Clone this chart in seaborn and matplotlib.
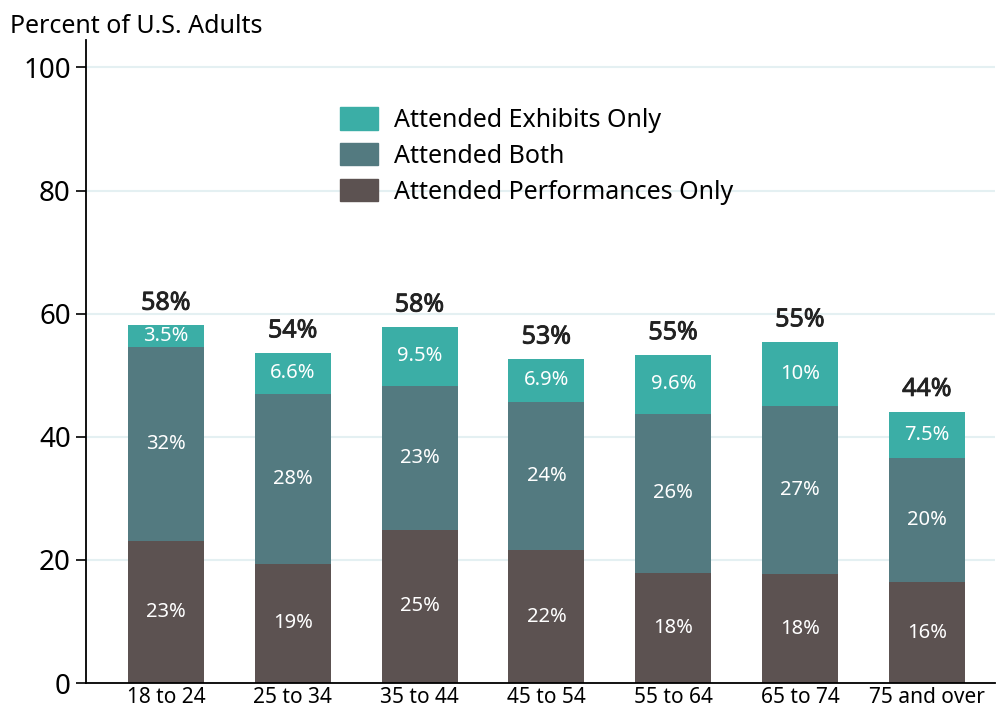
import numpy as np
import pandas as pd
import matplotlib

matplotlib.use("Agg")
import matplotlib.pyplot as plt
import matplotlib.patheffects as pe
import seaborn as sns
from matplotlib.patches import Patch

# data
ages = ["18 to 24", "25 to 34", "35 to 44", "45 to 54", "55 to 64", "65 to 74", "75 and over"]
performances_only = [23.1, 19.4, 24.9, 21.6, 17.9, 17.7, 16.4]
both = [31.5, 27.6, 23.4, 24.1, 25.8, 27.3, 20.2]
exhibits_only = [3.5, 6.6, 9.5, 6.9, 9.6, 10.4, 7.5]
total_labels = ["58%", "54%", "58%", "53%", "55%", "55%", "44%"]

c_exh = "#3baea6"
c_both = "#537a80"
c_perf = "#5c5251"

sns.set_theme(style="white")
plt.rcParams["font.family"] = ["Noto Sans", "DejaVu Sans"]

df = pd.DataFrame({
    "age": ages,
    "perf": performances_only,
    "both": both,
    "exh": exhibits_only,
})
df["lvl2"] = df["perf"] + df["both"]
df["lvl3"] = df["lvl2"] + df["exh"]

fig = plt.figure(figsize=(9.97, 7.10), dpi=100)
ax = fig.add_axes([0.0863, 0.038, 0.912, 0.906])

# stacked bars: draw cumulative heights back to front
for col, c in [("lvl3", c_exh), ("lvl2", c_both), ("perf", c_perf)]:
    sns.barplot(data=df, x="age", y=col, color=c, width=0.6, saturation=1,
                linewidth=0, ax=ax, zorder=2)


def fmt(v):
    return f"{v:.1f}%" if v < 9.95 else f"{v:.0f}%"


# no semibold Noto face installed, fake it with a thin stroke
semibold = [pe.withStroke(linewidth=0.6, foreground="#222222")]

for i, row in df.iterrows():
    for y, v in [(row["perf"] / 2, row["perf"]),
                 (row["perf"] + row["both"] / 2, row["both"]),
                 (row["lvl2"] + row["exh"] / 2, row["exh"])]:
        ax.text(i, y, fmt(v), ha="center", va="center", color="white",
                fontsize=14.5, zorder=3)
    ax.text(i, row["lvl3"] + 3.6, total_labels[i], ha="center", va="center",
            color="#222222", fontsize=18, zorder=3, path_effects=semibold)

ax.set_ylim(0, 104.5)
ax.set_xlim(-0.63, 6.54)
ax.set_yticks([0, 20, 40, 60, 80, 100])
ax.yaxis.grid(True, color="#e4f0f2", linewidth=1.5, zorder=0)
ax.set_axisbelow(True)
ax.set_xlabel("")
ax.set_ylabel("")
ax.tick_params(axis="y", labelsize=20, labelcolor="black", length=7, width=1.2,
               color="black", left=True, pad=4)
ax.tick_params(axis="x", labelsize=15, labelcolor="black", length=0, pad=3)
for s in ["top", "right"]:
    ax.spines[s].set_visible(False)
for s in ["left", "bottom"]:
    ax.spines[s].set_color("black")
    ax.spines[s].set_linewidth(1.3)

fig.text(0.01, 0.962, "Percent of U.S. Adults", fontsize=18, ha="left", va="center", color="black")

handles = [Patch(color=c_exh), Patch(color=c_both), Patch(color=c_perf)]
ax.legend(handles, ["Attended Exhibits Only", "Attended Both", "Attended Performances Only"],
          loc="upper left", bbox_to_anchor=(0.255, 0.93), frameon=False, fontsize=18,
          labelcolor="black", handlelength=1.5, handleheight=1.0, handletextpad=0.64,
          labelspacing=0.4)

fig.savefig("out.png", dpi=100)
